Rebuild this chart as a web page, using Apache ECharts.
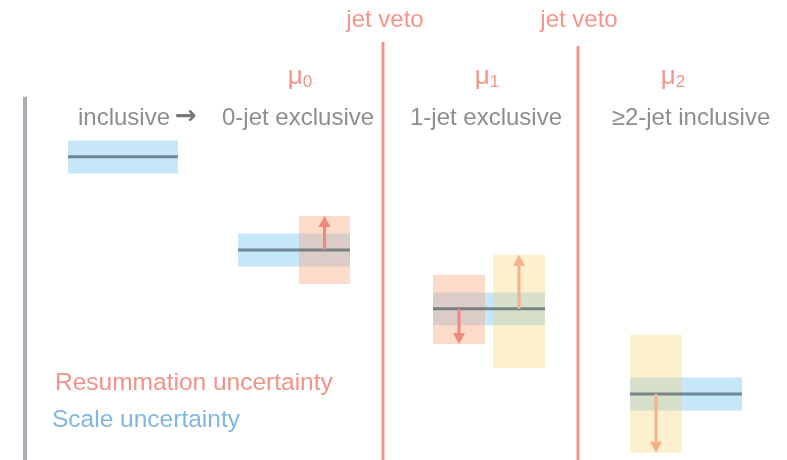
<!DOCTYPE html>
<html>
<head>
<meta charset="utf-8">
<script src="https://cdn.jsdelivr.net/npm/echarts@6/dist/echarts.min.js"></script>
<style>
html,body{margin:0;padding:0;background:#fff;}
#chart{width:787px;height:460px;}
</style>
</head>
<body>
<div id="chart"></div>
<script>
// ---- data (x: position units, y: rate units) ----
const regionLabels = ['inclusive', '0-jet exclusive', '1-jet exclusive', '\u22652-jet inclusive'];
const arrowGlyph = '\u2192';
const scaleLabels = ['\u03bc', '\u03bc', '\u03bc'];
const scaleSubscripts = ['0', '1', '2'];
const vetoLabels = ['jet veto', 'jet veto'];
const legendLabels = ['Resummation uncertainty', 'Scale uncertainty'];

// central predictions and scale-uncertainty bands
const bandStart = [6.8, 23.8, 43.3, 63.0];
const bandEnd = [17.8, 35.0, 54.5, 74.2];
const centralValue = [75.8, 52.5, 37.8, 16.5];
const scaleLow = [71.6, 48.4, 33.7, 12.4];
const scaleHigh = [79.9, 56.6, 41.9, 20.6];

// resummation / veto uncertainty boxes
const resumStart = [29.9, 43.3, 49.3, 63.0];
const resumEnd = [35.0, 48.5, 54.5, 68.2];
const resumLow = [44.0, 29.0, 23.0, 1.8];
const resumHigh = [61.0, 46.3, 51.3, 31.3];
const resumCenter = [52.5, 37.8, 37.8, 16.5];
const arrowTip = [61.0, 29.0, 51.3, 1.8];
const resumKind = [0, 0, 1, 1];

// jet-veto boundaries and vertical axis
const vetoX = [38.3, 57.8];
const vetoTop = [104.5, 103.5];
const axisX = [2.5];
const axisTop = [90.8];

// ---- styles ----
const BLUE = '#c6e7f8';
const BOX_FILL = ['rgba(250,165,125,0.40)', 'rgba(250,208,105,0.32)'];
const ARROW_COL = ['#f2887d', '#f6b189'];
const LINE_COL = 'rgba(60,78,88,0.62)';
const VETO_COL = '#f4958a';
const AXIS_COL = '#a8aeb6';
const TEXT_GRAY = '#8e8e8e';
const FONT = '"Liberation Sans", Arial, sans-serif';

function rectRender(fillFn) {
  return function (params, api) {
    const p0 = api.coord([api.value(0), api.value(3)]);
    const p1 = api.coord([api.value(1), api.value(2)]);
    return {
      type: 'rect',
      shape: { x: p0[0], y: p0[1], width: p1[0] - p0[0], height: p1[1] - p0[1] },
      style: { fill: fillFn(params.dataIndex) }
    };
  };
}

const bandData = bandStart.map((s, i) => [s, bandEnd[i], scaleLow[i], scaleHigh[i]]);
const resumData = resumStart.map((s, i) => [s, resumEnd[i], resumLow[i], resumHigh[i]]);
const lineData = bandStart.map((s, i) => [s, bandEnd[i], centralValue[i]]);
const arrowData = resumStart.map((s, i) => [(s + resumEnd[i]) / 2, resumCenter[i], arrowTip[i], resumKind[i]]);
const vetoData = vetoX.map((x, i) => [x, 0, vetoTop[i]]);
const axisData = axisX.map((x, i) => [x, 0, axisTop[i]]);

function vline(color, width) {
  return function (params, api) {
    const a = api.coord([api.value(0), api.value(1)]);
    const b = api.coord([api.value(0), api.value(2)]);
    return { type: 'line', shape: { x1: a[0], y1: a[1], x2: b[0], y2: b[1] }, style: { stroke: color, lineWidth: width } };
  };
}

function muText(x, i) {
  return { type: 'text', x: x, y: 77, style: { text: '{m|' + scaleLabels[i] + '}{s|' + scaleSubscripts[i] + '}', rich: { m: { fontSize: 26, fontFamily: FONT, fill: VETO_COL }, s: { fontSize: 17, fontFamily: FONT, fill: VETO_COL, padding: [11, 0, 0, 0] } }, textAlign: 'center', textVerticalAlign: 'middle' } };
}
function plainText(x, y, txt, color, align, size) {
  return { type: 'text', x: x, y: y, style: { text: txt, fill: color, font: (size || 24) + 'px ' + FONT, textAlign: align, textVerticalAlign: 'middle' } };
}

const option = {
  animation: false,
  backgroundColor: '#ffffff',
  grid: { left: 0, right: 0, top: 0, bottom: 0 },
  xAxis: { type: 'value', min: 0, max: 78.7, show: false },
  yAxis: { type: 'value', min: 0, max: 115, show: false },
  series: [
    { type: 'custom', renderItem: rectRender(() => BLUE), data: bandData, z: 1 },
    { type: 'custom', renderItem: rectRender(i => BOX_FILL[resumKind[i]]), data: resumData, z: 2 },
    {
      type: 'custom', z: 3, data: lineData,
      renderItem: function (params, api) {
        const a = api.coord([api.value(0), api.value(2)]);
        const b = api.coord([api.value(1), api.value(2)]);
        return { type: 'line', shape: { x1: a[0], y1: a[1], x2: b[0], y2: b[1] }, style: { stroke: LINE_COL, lineWidth: 3 } };
      }
    },
    {
      type: 'custom', z: 4, data: arrowData,
      renderItem: function (params, api) {
        const a = api.coord([api.value(0), api.value(1)]);
        const b = api.coord([api.value(0), api.value(2)]);
        const col = ARROW_COL[api.value(3)];
        const dir = b[1] < a[1] ? -1 : 1;
        const head = 11, hw = 6;
        const base = b[1] - dir * head;
        return {
          type: 'group',
          children: [
            { type: 'line', shape: { x1: a[0], y1: a[1], x2: b[0], y2: base }, style: { stroke: col, lineWidth: 3 } },
            { type: 'polygon', shape: { points: [[b[0], b[1]], [b[0] - hw, base], [b[0] + hw, base]] }, style: { fill: col } }
          ]
        };
      }
    },
    { type: 'custom', z: 5, data: vetoData, renderItem: vline(VETO_COL, 3) },
    { type: 'custom', z: 5, data: axisData, renderItem: vline(AXIS_COL, 4) }
  ],
  graphic: [
    plainText(385, 20, vetoLabels[0], VETO_COL, 'center', 24),
    plainText(579, 20, vetoLabels[1], VETO_COL, 'center', 24),
    muText(300, 0),
    muText(487, 1),
    muText(673, 2),
    plainText(78, 118, regionLabels[0], TEXT_GRAY, 'left', 24),
    { type: 'text', x: 175, y: 117, style: { text: arrowGlyph, fill: '#777777', font: 'bold 26px "DejaVu Sans", sans-serif', textAlign: 'left', textVerticalAlign: 'middle' } },
    plainText(222, 118, regionLabels[1], TEXT_GRAY, 'left', 24),
    plainText(486, 118, regionLabels[2], TEXT_GRAY, 'center', 24),
    plainText(691, 118, regionLabels[3], TEXT_GRAY, 'center', 24),
    plainText(55, 383, legendLabels[0], '#f29288', 'left', 24.5),
    plainText(52, 420, legendLabels[1], '#7fb8de', 'left', 24.5)
  ]
};

const chart = echarts.init(document.getElementById('chart'), null, { renderer: 'canvas' });
chart.setOption(option);
</script>
</body>
</html>
